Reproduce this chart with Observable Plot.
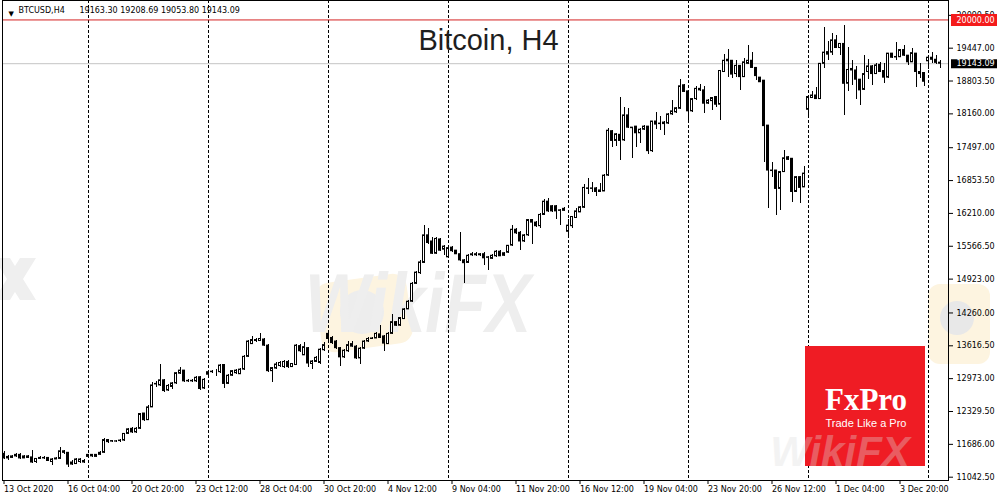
<!DOCTYPE html>
<html><head><meta charset="utf-8">
<script src="https://cdn.jsdelivr.net/npm/d3@7"></script>
<script src="https://cdn.jsdelivr.net/npm/@observablehq/plot@0.6"></script>
<style>
html,body{margin:0;padding:0;background:#fff;}
#chart{width:1000px;height:500px;position:relative;overflow:hidden;}
</style></head><body><div id="chart"></div>
<script>
// ---- data (BTCUSD H4) ----
const symbol = "BTCUSD,H4";
const title = "Bitcoin, H4";
const opens = [
11500,11410,11420,11450,11480,11410,11450,11430,11340,11400,
11420,11420,11340,11390,11400,11550,11520,11290,11300,11340,
11360,11440,11480,11440,11480,11520,11770,11740,11740,11750,
11760,11890,11990,11920,11990,12290,12160,12410,12860,12840,
12940,12740,12810,12880,13070,13130,12920,12930,12920,13000,
12780,13050,13100,13110,13100,13240,12870,13030,13080,13060,
13150,13400,13650,13710,13710,13740,13620,13120,13170,13220,
13200,13300,13200,13240,13610,13430,13570,13260,13300,13280,
13530,13850,13770,13700,13570,13390,13510,13600,13600,13370,
13560,13700,13750,13760,13840,13800,13650,13850,14080,14010,
14140,14330,14480,14830,15040,15240,15780,15660,15420,15700,
15500,15350,15540,15480,15410,15290,15240,15390,15410,15390,
15410,15340,15320,15370,15460,15380,15440,15580,15890,15830,
15660,15780,16080,16030,15960,16180,16440,16350,16350,16260,
16260,15850,15960,16120,16230,16320,16700,16690,16700,16660,
16640,16950,17820,17630,17750,17640,18130,17890,17910,17780,
17850,17910,17430,18010,17960,17960,17970,18150,18190,18260,
18720,18600,18210,18450,18650,18620,18360,18410,18490,18340,
18980,19220,19200,18940,19100,18880,19140,19200,19060,18870,
18810,17930,17050,17050,16690,17020,17310,17280,16630,16920,
16720,18240,18470,18520,18450,19140,19320,19360,19600,19450,
19530,18750,19010,19010,18830,18630,18980,19090,18940,19120,
19000,18870,19340,19265,19270,19410,19300,19170,19340,18980,
18960,19190,19260,19220,19163.30];
const highs = [
11540,11460,11470,11500,11500,11470,11460,11560,11410,11440,
11440,11430,11400,11430,11630,11560,11530,11360,11410,11400,
11380,11490,11490,11490,11540,11800,11790,11770,11760,11790,
11900,12000,12010,12010,12300,12300,12450,12900,12920,13260,
12950,12850,12900,13100,13200,13140,12960,12950,13010,13010,
12980,13130,13140,13150,13260,13260,13050,13140,13150,13170,
13420,13720,13790,13750,13850,13760,13640,13200,13280,13300,
13320,13320,13270,13640,13650,13690,13580,13320,13400,13560,
13690,13880,13790,13720,13590,13540,13700,13700,13620,13580,
13720,13780,13780,13870,14010,13820,13870,14220,14100,14180,
14350,14500,14850,15070,15280,15970,15910,15745,15730,15720,
15580,15550,15560,15490,15840,15300,15400,15440,15440,15430,
15440,15370,15400,15480,15480,15450,15590,15970,15910,15850,
15800,16100,16100,16050,16200,16480,16500,16370,16370,16290,
16320,16090,16150,16300,16340,16780,16890,16820,16710,16790,
16970,17870,17840,17770,18490,18290,18260,17900,17920,17870,
17930,17920,18020,18180,18100,18010,18170,18420,18290,18830,
18740,18620,18470,18690,18740,18700,18450,18480,18500,19010,
19320,19430,19210,19200,19110,19240,19500,19370,19070,18880,
18820,17940,17200,17060,17030,17440,17330,17290,16940,16930,
17120,18500,18590,18680,19150,19860,19570,19730,19700,19540,
19890,19470,19210,19080,18840,19300,19220,19100,19140,19170,
19140,19350,19350,19560,19420,19500,19310,19450,19350,19140,
18970,19270,19370,19300,19208.69];
const lows = [
11380,11360,11400,11430,11390,11400,11400,11310,11320,11390,
11390,11350,11270,11380,11390,11490,11240,11280,11290,11320,
11310,11430,11430,11430,11470,11510,11700,11720,11720,11730,
11740,11870,11900,11900,11980,12140,12150,12400,12800,12820,
12700,12720,12760,12860,13050,12900,12890,12900,12900,12750,
12760,13030,13080,13020,13080,12780,12860,13020,13060,13050,
13140,13390,13640,13690,13700,13600,13100,12900,13150,13200,
13180,13180,13190,13230,13480,13420,13200,13160,13280,13260,
13510,13730,13650,13550,13220,13370,13490,13580,13350,13250,
13540,13690,13740,13750,13750,13500,13640,13830,13990,14000,
14130,14320,14470,14820,15020,15220,15600,15400,15400,15460,
15390,15330,15450,15400,15270,14830,15220,15370,15360,15360,
15190,15090,15300,15350,15360,15360,15420,15560,15800,15480,
15640,15760,15610,15940,15910,16160,16230,16230,16100,15970,
16240,15710,15910,16110,16220,16300,16590,16610,16540,16610,
16630,16930,17510,17520,17250,17620,17870,17280,17500,17570,
17840,17360,17410,17850,17830,17740,17950,18130,18170,18240,
18570,17970,18190,18430,18600,18170,18340,18230,18290,18030,
18970,18880,18850,18880,18620,18870,19130,19050,18810,18770,
17210,16300,16920,16170,16270,17010,17240,16430,16610,16410,
16710,18060,18460,18440,18440,19040,19200,19300,19440,19300,
18130,18600,18720,18450,18320,18620,18830,18720,18930,18970,
18750,18860,19250,19210,19260,19290,19110,19160,18680,18850,
18700,19020,19140,19120,19053.80];
const closes = [
11410,11440,11450,11480,11410,11450,11420,11330,11400,11420,
11410,11360,11390,11410,11550,11520,11290,11330,11390,11390,
11330,11480,11450,11480,11520,11770,11730,11750,11745,11760,
11890,11980,11920,11990,12280,12160,12410,12840,12870,12940,
12730,12830,12880,13080,13130,12920,12930,12920,12990,12770,
12950,13100,13110,13110,13230,12870,13030,13120,13130,13150,
13400,13700,13730,13730,13750,13620,13120,13180,13250,13280,
13300,13200,13260,13620,13510,13590,13270,13310,13380,13540,
13630,13750,13670,13570,13390,13520,13630,13650,13370,13560,
13700,13750,13760,13850,13770,13660,13850,14080,14010,14160,
14330,14480,14830,15050,15250,15780,15630,15420,15710,15480,
15560,15530,15470,15410,15290,15235,15380,15410,15390,15410,
15330,15350,15380,15460,15370,15430,15575,15890,15820,15660,
15780,16080,16030,15960,16180,16440,16250,16250,16250,16270,
16300,15970,16140,16250,16330,16710,16690,16700,16630,16630,
16950,17830,17630,17760,17630,18130,17890,17880,17780,17850,
17910,17430,18010,17950,17970,17990,18150,18210,18270,18700,
18590,18210,18450,18650,18620,18360,18420,18470,18340,19000,
19200,19190,18930,19100,18880,19170,19200,19060,18900,18780,
17920,17050,17040,16690,17020,17290,17260,16630,16920,16710,
16990,18490,18520,18450,19140,19360,19370,19600,19450,19530,
18750,19020,19040,18830,18620,18940,19090,18940,19110,18980,
18870,19340,19260,19275,19410,19300,19170,19350,18980,18940,
18790,19260,19220,19160,19143.09];
const separatorBars = [21, 51, 81, 111, 141, 171, 201, 231];
const timeTickBars = [0, 16, 32, 48, 64, 80, 96, 112, 128, 144, 160, 176, 192, 208, 224];
const timeTickLabels = ["13 Oct 2020","16 Oct 04:00","20 Oct 20:00","23 Oct 12:00","28 Oct 04:00",
  "30 Oct 20:00","4 Nov 12:00","9 Nov 04:00","11 Nov 20:00","16 Nov 12:00","19 Nov 04:00",
  "23 Nov 20:00","26 Nov 12:00","1 Dec 04:00","3 Dec 20:00"];
const priceTicks = [20090.5, 19447, 18803.5, 18160, 17497, 16853.5, 16210, 15566.5,
  14923, 14260, 13616.5, 12973, 12329.5, 11686, 11042.5];
const levelLine = 20000;
const priceDomain = [10977.8, 20381];

// ---- build ----
const bars = closes.map((c, i) => ({i, open: opens[i], high: highs[i], low: lows[i], close: c}));
const n = bars.length - 1;
const last = bars[n];
const labelMap = new Map(timeTickBars.map((b, k) => [b, timeTickLabels[k]]));
const fmt = v => v.toFixed(2);
const FONT = "'DejaVu Sans', Verdana, sans-serif";
const SANS = "'Liberation Sans', Arial, sans-serif";
const xEnd = n + 2.125;                 // right edge of the plotting frame (bar units)
const tags = [
  {value: levelLine, color: "#f41b1b", size: 12},
  {value: last.close, color: "#000000", size: 9}
];

const plot = Plot.plot({
  width: 1000, height: 500,
  marginLeft: 2, marginRight: 52, marginTop: 0, marginBottom: 20,
  style: "background:white;font-family:" + FONT + ";font-size:8px;color:black;overflow:visible;",
  x: {type: "linear", domain: [-0.375, xEnd]},
  y: {domain: priceDomain},
  color: {type: "identity"},
  marks: [
    Plot.ruleX(separatorBars, {stroke: "black", strokeDasharray: "3,2", shapeRendering: "crispEdges"}),
    Plot.ruleY([levelLine], {stroke: "#d42020"}),
    Plot.ruleY([last.close], {stroke: "#c4c4c4"}),
    Plot.ruleX(bars, {x: "i", y1: "low", y2: "high", stroke: "black", shapeRendering: "crispEdges"}),
    Plot.rect(bars, {x1: d => d.i - 0.25, x2: d => d.i + 0.25, y1: "open", y2: "close",
      fill: d => d.close >= d.open ? "white" : "black", stroke: "black", strokeWidth: 1}),
    Plot.frame({stroke: "black", shapeRendering: "crispEdges"}),
    Plot.axisY(priceTicks, {anchor: "right", tickSize: 4, tickPadding: 4, tickFormat: fmt, label: null}),
    Plot.axisX(timeTickBars, {anchor: "bottom", tickSize: 4, tickPadding: 2, tickFormat: d => labelMap.get(d),
      textAnchor: "start", label: null}),
    // price tags on the right axis
    Plot.ruleY(tags, {y: "value", x1: xEnd + 0.75, x2: xEnd + 12.25, stroke: "color",
      strokeWidth: "size", clip: false}),
    Plot.text(tags, {y: "value", frameAnchor: "right", dx: 8, textAnchor: "start",
      text: d => fmt(d.value), fill: "white"}),
    // header & title
    Plot.text(["\u25BC"], {frameAnchor: "top-left", dx: 6, dy: 10.5, textAnchor: "start", fontSize: 7}),
    Plot.text([symbol], {frameAnchor: "top-left", dx: 16, dy: 7, textAnchor: "start", lineAnchor: "top"}),
    Plot.text([[opens[n], highs[n], lows[n], closes[n]].map(fmt).join(" ")],
      {frameAnchor: "top-left", dx: 77, dy: 7, textAnchor: "start", lineAnchor: "top"}),
    Plot.text([title], {frameAnchor: "top", dx: 13, dy: 29, lineAnchor: "top", fontSize: 29,
      fontFamily: SANS, fill: "#1e1e1e"})
  ]
});
document.getElementById("chart").append(plot);

const svg = d3.select(plot);

// ---- watermark (behind) ----
const wm = svg.insert("g", "g").attr("pointer-events", "none");
wm.append("rect").attr("x", 318).attr("y", 278).attr("width", 92).attr("height", 70).attr("rx", 14)
  .attr("fill", "#fdf4e0").attr("transform", "rotate(-8,364,313)");
wm.append("circle").attr("cx", 362).attr("cy", 312).attr("r", 22).attr("fill", "#ededed");
wm.append("text").attr("x", 418).attr("y", 332).attr("font-size", 84).attr("font-weight", "bold")
  .attr("font-style", "italic").attr("font-family", SANS)
  .attr("textLength", 226).attr("lengthAdjust", "spacingAndGlyphs").attr("fill", "#eeeeee").text("WikiFX");
wm.append("path").attr("d", "M-6,258 L10,258 L36,300 L20,300 Z M20,258 L36,258 L10,300 L-6,300 Z")
  .attr("fill", "#efefef");
wm.append("rect").attr("x", 928).attr("y", 284).attr("width", 62).attr("height", 80).attr("rx", 12)
  .attr("fill", "#fdf4e0");
wm.append("circle").attr("cx", 957).attr("cy", 318).attr("r", 17).attr("fill", "#e8e8e8");

// ---- FxPro badge (on top) ----
const logo = svg.append("g");
logo.append("rect").attr("x", 805).attr("y", 346).attr("width", 120).attr("height", 120).attr("fill", "#ef1c24");
logo.append("text").attr("x", 866).attr("y", 410).attr("text-anchor", "middle")
  .attr("font-family", "'Liberation Serif', 'DejaVu Serif', serif").attr("font-weight", "bold")
  .attr("font-size", 31).attr("fill", "white").text("FxPro");
logo.append("text").attr("x", 866).attr("y", 427).attr("text-anchor", "middle")
  .attr("font-family", SANS).attr("font-size", 11)
  .attr("fill", "white").text("Trade Like a Pro");
logo.append("text").attr("x", 840).attr("y", 466).attr("font-size", 42).attr("font-weight", "bold")
  .attr("font-style", "italic").attr("font-family", SANS)
  .attr("fill", "#dddddd").attr("opacity", 0.33).text("WikiFX");
</script></body></html>
